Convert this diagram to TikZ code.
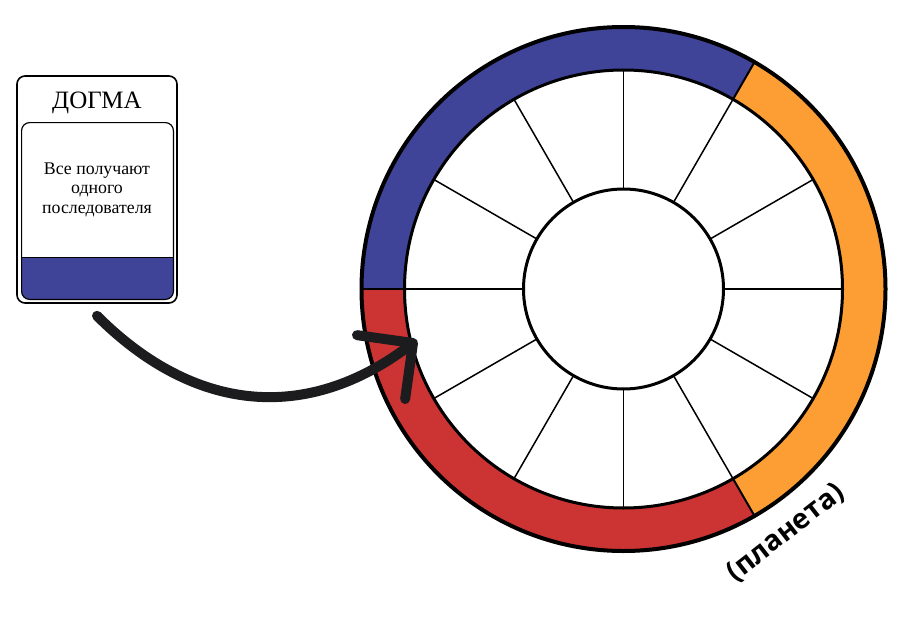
\documentclass[tikz,border=0pt]{standalone}
\usepackage{fontspec}
\setmainfont{Liberation Serif}
\newfontfamily\labelfont{Open Sans}
\usetikzlibrary{calc}
\usetikzlibrary{arrows.meta}

\definecolor{dogmablue}{RGB}{63,68,153}
\definecolor{dogmared}{RGB}{204,51,51}
\definecolor{dogmaorange}{RGB}{253,158,52}
\definecolor{arrowblack}{RGB}{28,28,30}

\begin{document}
\begin{tikzpicture}[x=0.5pt,y=0.5pt]
\useasboundingbox (0,0) rectangle (900,634);
\coordinate (O) at (623.5,345);

% coloured band of the planet
\fill[dogmablue] ($(O)+(60:262)$) arc (60:180:262) -- ($(O)+(180:219)$) arc (180:60:219) -- cycle;
\fill[dogmared] ($(O)+(180:262)$) arc (180:300:262) -- ($(O)+(300:219)$) arc (300:180:219) -- cycle;
\fill[dogmaorange] ($(O)+(-60:262)$) arc (-60:60:262) -- ($(O)+(60:219)$) arc (60:-60:219) -- cycle;

\foreach \a in {0,30,...,330} \draw[line width=0.75pt] ($(O)+(\a:100)$) -- ($(O)+(\a:219)$);
\foreach \a in {60,180,300} \draw[line width=1pt] ($(O)+(\a:219)$) -- ($(O)+(\a:262)$);

\draw[line width=2pt] (O) circle (262);
\draw[line width=1.5pt] (O) circle (219);
\draw[line width=1.5pt, fill=white] (O) circle (100);

% the card
\node[draw, line width=0.8pt, rounded corners=4pt, minimum width=80pt, minimum height=113.5pt] (card) at (97,444.5) {};
\node[minimum width=75.5pt, minimum height=88pt] (inner) at (97.5,423) {};
\begin{scope}
\clip[rounded corners=4pt] (inner.south west) rectangle (inner.north east);
\fill[dogmablue] (inner.south west) rectangle ($(inner.south east)+(0,42)$);
\end{scope}
\draw[line width=0.6pt] ($(inner.south west)+(0,42)$) -- ($(inner.south east)+(0,42)$);
\draw[line width=0.6pt, rounded corners=4pt] (inner.south west) rectangle (inner.north east);

\node[anchor=base, font=\fontsize{12.5}{15}\selectfont] (title) at (97,526) {ДОГМА};
\node[anchor=base, align=center, font=\fontsize{8.9}{9.75}\selectfont] (rule) at (97,421) {Все получают\\одного\\последователя};

\node[rotate=38, font=\labelfont\bfseries\fontsize{14}{16}\selectfont] (planet) at (786,101) {(планета)};

% arrow from the card to the planet
\coordinate (tip) at (417,294);
\draw[arrowblack, line width=5pt, line cap=round, -{Straight Barb[length=20pt,width=40pt,round]}] ([yshift=-6pt]card.south) to[out=-45,in=-143,looseness=1.1] (tip);

\end{tikzpicture}
\end{document}
